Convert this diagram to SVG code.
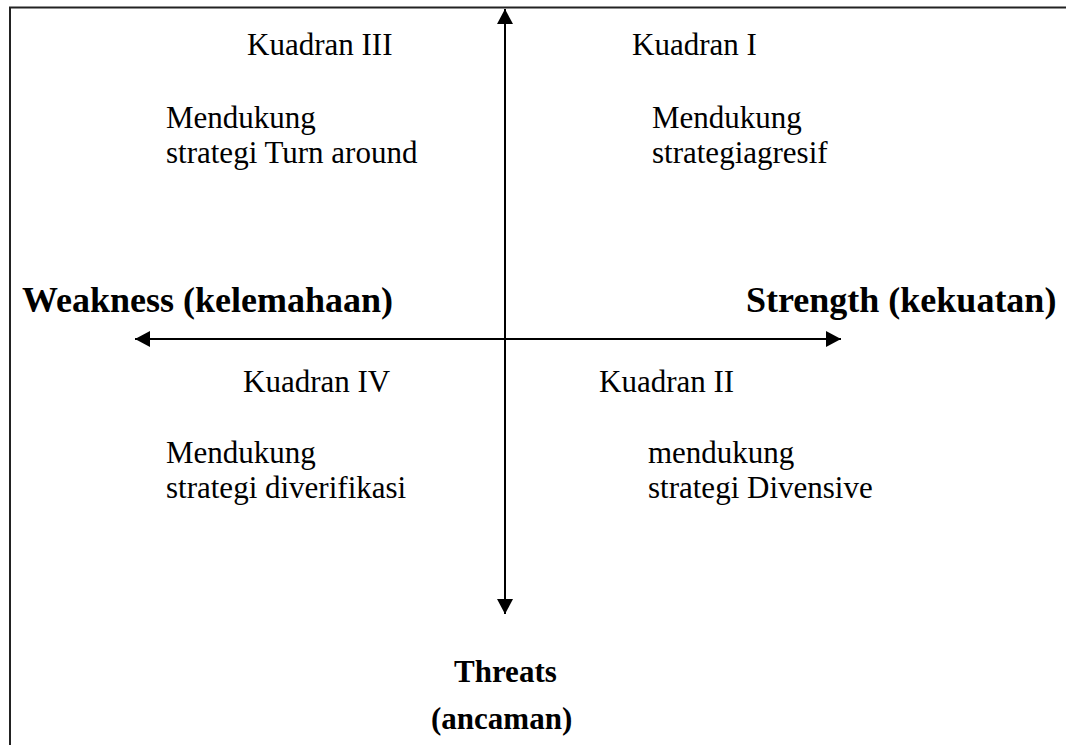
<svg xmlns="http://www.w3.org/2000/svg" width="1066" height="745" viewBox="0 0 1066 745">
  <style>
    .t { font-family: "Liberation Serif", "Times New Roman", serif; font-size: 31px; fill: #000; }
    .b { font-family: "Liberation Serif", "Times New Roman", serif; font-weight: bold; fill: #000; }
    .axis { stroke: #000; stroke-width: 2; fill: none; }
    .frame { stroke: #222; stroke-width: 2; fill: none; }
  </style>
  <defs>
    <marker id="ah" markerUnits="userSpaceOnUse" markerWidth="16" markerHeight="16" refX="15" refY="8" orient="auto-start-reverse">
      <path d="M0,0 L15,8 L0,16 Z" fill="#000"/>
    </marker>
  </defs>
  <rect width="1066" height="745" fill="#fff"/>
  <g id="frame">
    <path class="frame" d="M10,745 L10,7.5 L1066,7.5"/>
  </g>
  <g id="connectors">
    <line class="axis" x1="505" y1="9" x2="505" y2="614" marker-start="url(#ah)" marker-end="url(#ah)"/>
    <line class="axis" x1="135" y1="339" x2="841" y2="339" marker-start="url(#ah)" marker-end="url(#ah)"/>
  </g>
  <g id="q3">
    <text class="t" x="247" y="55">Kuadran III</text>
    <text class="t" x="166" y="128">Mendukung</text>
    <text class="t" x="166" y="163">strategi Turn around</text>
  </g>
  <g id="q1">
    <text class="t" x="632" y="55">Kuadran I</text>
    <text class="t" x="652" y="128">Mendukung</text>
    <text class="t" x="652" y="163">strategiagresif</text>
  </g>
  <g id="weakness">
    <text class="b" x="22" y="312" font-size="36">Weakness (kelemahaan)</text>
  </g>
  <g id="strength">
    <text class="b" x="746" y="312" font-size="36">Strength (kekuatan)</text>
  </g>
  <g id="q4">
    <text class="t" x="243" y="392">Kuadran IV</text>
    <text class="t" x="166" y="463">Mendukung</text>
    <text class="t" x="166" y="498">strategi diverifikasi</text>
  </g>
  <g id="q2">
    <text class="t" x="599" y="392">Kuadran II</text>
    <text class="t" x="648" y="463">mendukung</text>
    <text class="t" x="648" y="498">strategi Divensive</text>
  </g>
  <g id="threats">
    <text class="b" x="454" y="682" font-size="31">Threats</text>
    <text class="b" x="431" y="729" font-size="31">(ancaman)</text>
  </g>
</svg>
